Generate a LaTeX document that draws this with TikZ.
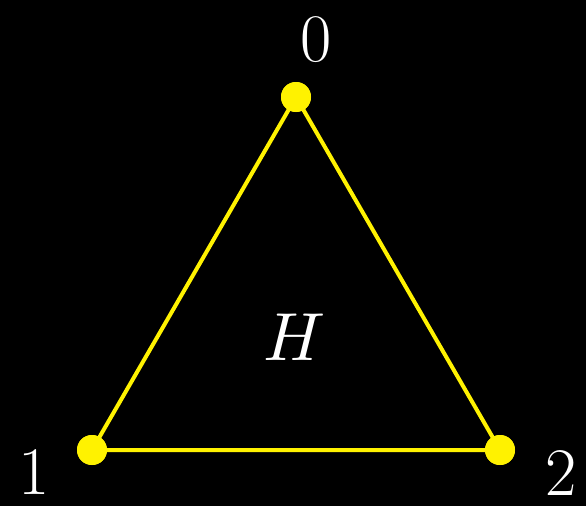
\documentclass[tikz,border=0pt]{standalone}
\usepackage{graphicx}
\begin{document}
\begin{tikzpicture}[x=1pt,y=-1pt,
  edge/.style={draw=yellow,line width=4pt},
  dot/.style={circle,fill=yellow,inner sep=0pt,minimum size=30pt},
  lab/.style={text=white,inner sep=0pt,font=\fontsize{68}{72}\selectfont}]
\fill[black] (0,0) rectangle (586,506);
\useasboundingbox (0,0) rectangle (586,506);
\node[dot] (v0) at (296,97) {};
\node[dot] (v1) at (92,450) {};
\node[dot] (v2) at (500,450) {};
\draw[edge] (v0.center) -- (v1.center) -- (v2.center) -- cycle;
\node[dot] at (v0) {};
\node[dot] at (v1) {};
\node[dot] at (v2) {};
\node[lab] (l0) at (316,40) {0};
\node[lab] (l1) at (34,472) {1};
\node[lab] (l2) at (561,473) {2};
\node[text=white,inner sep=0pt] (h) at (295,337) {\scalebox{6.8}{$H$}};
\end{tikzpicture}
\end{document}
